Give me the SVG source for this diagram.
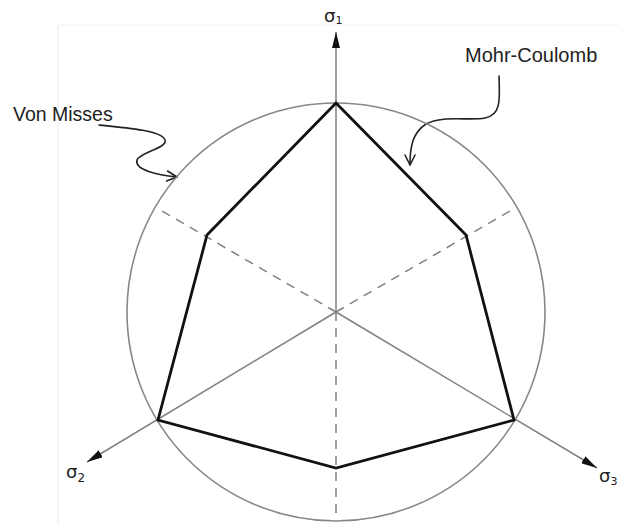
<svg xmlns="http://www.w3.org/2000/svg" width="619" height="525" viewBox="0 0 619 525">
<defs>
<style>
.axis{stroke:#808080;stroke-width:1.5;fill:none}
.dash{stroke:#808080;stroke-width:1.5;fill:none;stroke-dasharray:9,7}
.circ{stroke:#888;stroke-width:1.6;fill:none}
.hex{stroke:#111;stroke-width:2.8;fill:none;stroke-linejoin:miter}
.lead{stroke:#222;stroke-width:1.6;fill:none;stroke-linecap:round}
.lbl{font-family:"Liberation Sans",Arial,sans-serif;fill:#222}
.sig{font-family:"DejaVu Sans","Liberation Sans",sans-serif;fill:#222;font-size:18px}
</style>
<marker id="ah" viewBox="0 0 16 8" refX="16" refY="4" markerWidth="16" markerHeight="8" markerUnits="userSpaceOnUse" orient="auto">
<path d="M0,0 L16,4 L0,8 Z" fill="#111"/>
</marker>
<marker id="open" viewBox="0 0 12 12" refX="11" refY="6" markerWidth="12" markerHeight="12" markerUnits="userSpaceOnUse" orient="auto">
<path d="M1,1 L11,6 L1,11" fill="none" stroke="#222" stroke-width="1.6" stroke-linecap="round" stroke-linejoin="round"/>
</marker>
</defs>
<rect width="619" height="525" fill="#fff"/>
<g id="frame">
<line x1="58" y1="25" x2="619" y2="25" stroke="#f2f2f2" stroke-width="1"/>
<line x1="58" y1="25" x2="58" y2="525" stroke="#ececec" stroke-width="1"/>
</g>
<g id="connectors">
<line class="axis" x1="336" y1="312" x2="336" y2="32" marker-end="url(#ah)"/>
<line class="axis" x1="336" y1="312" x2="87" y2="462" marker-end="url(#ah)"/>
<line class="axis" x1="336" y1="312" x2="597" y2="468" marker-end="url(#ah)"/>
<line class="dash" x1="336" y1="312" x2="336" y2="514"/>
<line class="dash" x1="336" y1="312" x2="162" y2="211"/>
<line class="dash" x1="336" y1="312" x2="510" y2="211"/>
<path class="lead" d="M99,125 C130,128 162,131 165,140 C168,148 140,152 137,160 C134,170 158,175 177,177" marker-end="url(#open)"/>
<path class="lead" d="M499,76 C500,100 501,115 485,118 C470,121 442,115 426,124 C412,133 410,148 410,165" marker-end="url(#open)"/>
</g>
<g id="von-mises">
<circle class="circ" cx="336" cy="312" r="209"/>
</g>
<g id="mohr-coulomb">
<polygon class="hex" points="336,103 466,235 514,420 336,468 158,420 207,235"/>
</g>
<g id="label-von-mises">
<text class="lbl" x="13" y="121" font-size="19.5">Von Misses</text>
</g>
<g id="label-mohr-coulomb">
<text class="lbl" x="465" y="62" font-size="20">Mohr-Coulomb</text>
</g>
<g id="label-s1">
<text class="sig" x="324" y="22">σ<tspan font-size="11" dy="2">1</tspan></text>
</g>
<g id="label-s2">
<text class="sig" x="66" y="478">σ<tspan font-size="12" dy="4">2</tspan></text>
</g>
<g id="label-s3">
<text class="sig" x="599" y="482">σ<tspan font-size="11" dy="3">3</tspan></text>
</g>
</svg>
